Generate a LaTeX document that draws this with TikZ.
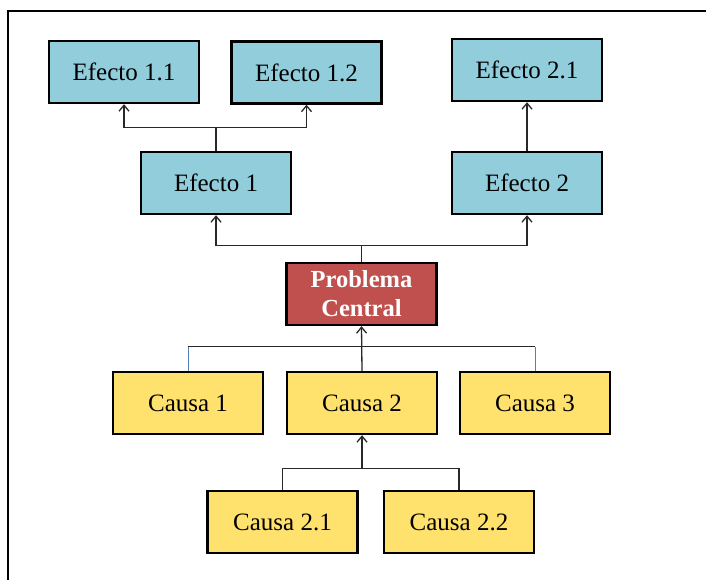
\documentclass[tikz,border=0pt]{standalone}
\usepackage{fontspec}
\setmainfont{Liberation Serif}
\usetikzlibrary{calc,arrows.meta}
\definecolor{effblue}{RGB}{146,205,220}
\definecolor{probred}{RGB}{192,80,77}
\definecolor{causeyel}{RGB}{255,225,110}
\definecolor{linkgray}{RGB}{40,40,40}
\definecolor{linkblue}{RGB}{79,129,189}
\tikzset{
  box/.style={draw=black, line width=2.4pt, minimum width=150pt, minimum height=62pt,
    inner sep=0pt, font=\fontsize{25}{29}\selectfont, align=center},
  effect/.style={box, fill=effblue},
  cause/.style={box, fill=causeyel},
  problem/.style={box, fill=probred, text=white, font=\fontsize{24.5}{29}\selectfont\bfseries},
  link/.style={draw=linkgray, line width=1.3pt},
  arr/.style={link, -{Straight Barb[length=6pt,width=10pt,line width=1.3pt]}},
  bluelink/.style={draw=linkblue, line width=1pt}
}
\begin{document}
\begin{tikzpicture}[x=1pt,y=-1pt]
  \useasboundingbox (0,0) rectangle (706,580);
  % outer frame (open to the right and bottom)
  \draw[line width=1.8pt] (8,590) -- (8,11) -- (716,11);

  % effects
  \node[effect] (e11) at (124,72) {Efecto 1.1};
  \node[effect] (e12) at (306.5,72.5) {Efecto 1.2};
  \node[effect] (e21) at (527,70) {Efecto 2.1};
  \node[effect] (e1) at (216,183) {Efecto 1};
  \node[effect] (e2) at (527,183) {Efecto 2};

  % central problem
  \node[problem] (pc) at (361.5,294) {Problema\\Central};

  % causes
  \node[cause] (c1) at (188,403) {Causa 1};
  \node[cause] (c2) at (362,403) {Causa 2};
  \node[cause] (c3) at (535,403) {Causa 3};
  \node[cause] (c21) at (282.5,522) {Causa 2.1};
  \node[cause] (c22) at (459,522) {Causa 2.2};

  % junction points of the tree
  \coordinate (j1) at ($(e1.north)+(0,-23)$);
  \coordinate (jp) at ($(pc.north)+(0,-16)$);
  \coordinate (jc) at ($(c2.north)+(0,-24)$);
  \coordinate (j2) at ($(c2.south)+(0,33)$);

  % effect 1 branches
  \draw[link] (e1.north) -- (j1);
  \draw[arr] (j1) -| (e11.south);
  \draw[arr] (j1) -| (e12.south);
  % effect 2 branch
  \draw[arr] (e2.north) -- (e21.south);
  % problem to effects
  \draw[link] (pc.north) -- (jp);
  \draw[arr] (jp) -| (e1.south);
  \draw[arr] (jp) -| (e2.south);
  % causes to problem
  \draw[link] (jc -| c1.north) -- (jc -| c3.north);
  \draw[bluelink] (c1.north) -- (jc -| c1.north);
  \draw[bluelink] (c3.north) -- (jc -| c3.north);
  \draw[arr] (c2.north) -- (pc.south);
  % sub-causes to cause 2
  \draw[link] (c21.north) |- (j2);
  \draw[link] (c22.north) |- (j2);
  \draw[arr] (j2) -- (c2.south);
\end{tikzpicture}
\end{document}
